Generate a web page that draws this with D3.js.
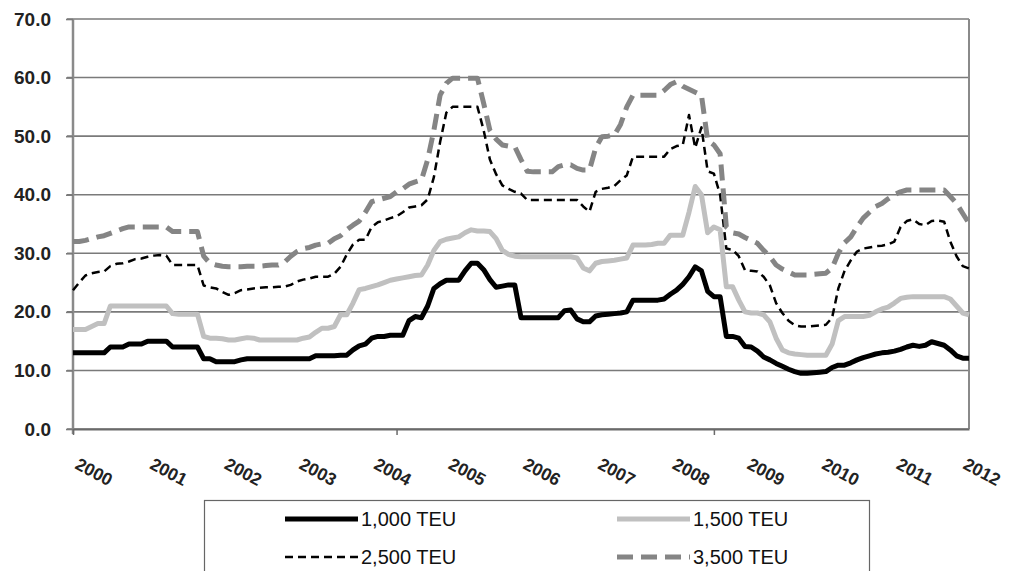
<!DOCTYPE html>
<html><head><meta charset="utf-8">
<script src="https://cdn.jsdelivr.net/npm/d3@7"></script>
<style>body{margin:0;background:#fff}svg{display:block}</style>
</head><body><svg id="c" width="1010" height="571"></svg>
<script>
// Monthly index 0 = Jan 2000 ... 144 = Jan 2012
const yearLabels = ["2000","2001","2002","2003","2004","2005","2006","2007","2008","2009","2010","2011","2012"];
const yTicks = [0,10,20,30,40,50,60,70];
const xTickMonths = [0,52,103];
const seriesNames = ["1,000 TEU","1,500 TEU","2,500 TEU","3,500 TEU"];

const teu1000 = [
 13,13,13,13,13,13,14,14,14,14.5,14.5,14.5,
 15,15,15,15,14,14,14,14,14,12,12,11.5,
 11.5,11.5,11.5,11.8,12,12,12,12,12,12,12,12,
 12,12,12,12.5,12.5,12.5,12.5,12.6,12.6,13.5,14.2,14.5,
 15.5,15.8,15.8,16,16,16,18.5,19.2,19,21,24,24.8,
 25.4,25.4,25.4,27,28.3,28.3,27.2,25.5,24.2,24.4,24.6,24.6,
 19,19,19,19,19,19,19,20.2,20.3,18.8,18.3,18.3,
 19.3,19.5,19.6,19.7,19.8,20,22,22,22,22,22,22.2,
 23,23.7,24.7,26,27.7,27,23.5,22.6,22.6,15.8,15.8,15.5,
 14.1,14,13.3,12.3,11.8,11.2,10.7,10.2,9.8,9.5,9.5,9.6,
 9.7,9.8,10.5,10.9,10.9,11.3,11.8,12.2,12.5,12.8,13,13.1,
 13.3,13.6,14,14.3,14.1,14.3,14.9,14.6,14.3,13.5,12.5,12.1,
 12.1];
const teu1500 = [
 17,17,17,17.5,18,18,21,21,21,21,21,21,
 21,21,21,21,19.7,19.6,19.6,19.6,19.6,15.8,15.5,15.5,
 15.4,15.2,15.2,15.4,15.6,15.5,15.2,15.2,15.2,15.2,15.2,15.2,
 15.2,15.5,15.7,16.5,17.2,17.2,17.5,19.5,19.5,21.5,23.8,24,
 24.3,24.6,25,25.4,25.6,25.8,26,26.2,26.3,28,30.5,32,
 32.4,32.6,32.8,33.5,34,33.8,33.8,33.7,32.5,30.5,29.8,29.5,
 29.4,29.4,29.4,29.4,29.4,29.4,29.4,29.4,29.4,29.2,27.5,27,
 28.3,28.6,28.7,28.8,29,29.2,31.4,31.4,31.4,31.5,31.7,31.7,
 33.1,33.1,33.1,37,41.4,40,33.5,34.5,34,24.3,24.3,22,
 20,19.8,19.8,19.5,18.3,15.5,13.5,13,12.8,12.7,12.6,12.6,
 12.6,12.6,14.5,18.5,19.2,19.2,19.2,19.2,19.4,20,20.5,20.8,
 21.5,22.3,22.5,22.6,22.6,22.6,22.6,22.6,22.6,22.2,21,19.8,
 19.5];
const teu2500 = [
 23.7,25,26.2,26.6,26.8,26.9,27.8,28.2,28.3,28.6,29,29.1,
 29.4,29.6,29.7,29.6,28,28,28,28,28,24.5,24.2,24,
 23.4,22.9,23.2,23.7,23.8,24,24.1,24.2,24.2,24.3,24.3,24.6,
 25.2,25.5,25.7,26,26,26,26.5,27.7,29.8,31.5,32.3,32.3,
 34.5,35.3,35.6,36,36.3,37,37.8,38,38.2,39.2,43,49,
 54,55,55,55,55,55,51,46,43.5,41.6,41,40.5,
 40.2,39.1,39.1,39.1,39.1,39.1,39.1,39.1,39.1,39.1,38,37.1,
 40.5,41,41.2,41.5,42.5,43.3,46.5,46.5,46.5,46.5,46.5,46.5,
 47.8,48.3,48.5,53.6,48,51.5,44,43.6,40,30.8,30.6,29.5,
 27.1,27,26.9,26,24.5,21.5,19.8,18.5,17.7,17.5,17.5,17.6,
 17.7,17.8,19,24,27,28.8,30.3,30.8,31,31.2,31.3,31.5,
 32,34.5,35.5,35.8,35,34.8,35.5,35.6,35.4,32,29.5,27.8,
 27.4];
const teu3500 = [
 32,32,32.2,32.5,32.8,33,33.4,33.8,34.2,34.5,34.5,34.5,
 34.5,34.5,34.5,34.5,33.7,33.7,33.7,33.7,33.7,29.5,28.3,28,
 27.8,27.7,27.7,27.7,27.8,27.8,27.8,27.9,28,28,28.5,29.5,
 30.3,30.8,31,31.4,31.6,31.7,32.5,33,34,34.8,35.5,37,
 38.8,39.1,39.4,39.7,40.5,41,41.8,42.2,42.5,46,51,57,
 59,59.9,59.9,59.9,59.9,59.9,55.6,51,49.5,48.5,48.3,48.2,
 46,44,43.9,43.9,43.9,43.9,44.8,45.1,45.1,44.5,44.2,44.2,
 48,49.9,50,50.2,52,55,57,57,57,57,57,57.8,
 58.8,59.3,58.5,58,57.5,57,49.3,48.5,47,34.5,33.5,33.3,
 32.7,32.2,31.7,30.5,29.4,28,27.3,26.8,26.3,26.3,26.3,26.4,
 26.5,26.6,27.5,30,31.8,32.8,34.5,36,37,38,38.5,39.3,
 40,40.5,40.8,40.8,40.8,40.8,40.8,40.8,40.8,39.7,38.5,36.8,
 35.1];

const styles = [
  {color:"#000000", width:5, dash:null},
  {color:"#c0c0c0", width:5, dash:null},
  {color:"#000000", width:2.5, dash:"8,5"},
  {color:"#858585", width:5, dash:"16,8"}
];
const allSeries = [teu1000, teu1500, teu2500, teu3500];

const svg = d3.select("#c");
const x = d3.scaleLinear().domain([0,144]).range([73,969]);
const y = d3.scaleLinear().domain([0,70]).range([429,19]);
const font = "'Liberation Sans', Arial, sans-serif";

// gridlines
svg.append("g").selectAll("line").data(yTicks).join("line")
  .attr("x1", 67).attr("x2", x(144))
  .attr("y1", d=>y(d)).attr("y2", d=>y(d))
  .attr("stroke", "#7a7a7a").attr("stroke-width", 1.6);

// right border
svg.append("line").attr("x1", x(144)).attr("x2", x(144)).attr("y1", y(70)).attr("y2", y(0))
  .attr("stroke", "#8a8a8a").attr("stroke-width", 2);

// y axis
const ya = svg.append("g").attr("transform", `translate(${x(0)},0)`)
  .call(d3.axisLeft(y).tickValues(yTicks).tickFormat(d3.format(".1f")).tickSizeInner(7).tickSizeOuter(0).tickPadding(15));
ya.select(".domain").attr("stroke", "#8a8a8a").attr("stroke-width", 2.5).attr("d", `M0,${y(70)}V${y(0)+5}`);
ya.selectAll(".tick line").attr("stroke", "#7a7a7a").attr("stroke-width", 1.6);
ya.selectAll(".tick text").attr("font-family", font).attr("font-size", 19).attr("font-weight", "bold").attr("fill", "#222");

// x axis
const xa = svg.append("g").attr("transform", `translate(0,${y(0)})`)
  .call(d3.axisBottom(x).tickValues(xTickMonths).tickFormat("").tickSizeInner(6).tickSizeOuter(0));
xa.select(".domain").attr("stroke", "#6a6a6a").attr("stroke-width", 1.8);
xa.selectAll(".tick line").attr("stroke", "#6a6a6a").attr("stroke-width", 1.5);

// year labels
svg.append("g").selectAll("text").data(yearLabels).join("text")
  .attr("transform", (d,i)=>`translate(${Math.min(x(i*12)+1, 962)},468) rotate(28)`)
  .attr("font-family", font).attr("font-size", 17.5).attr("font-weight", "bold").attr("fill", "#222")
  .text(d=>d);

// lines
const line = d3.line().x((d,i)=>x(i)).y(d=>y(d));
allSeries.forEach((s,k)=>{
  const st = styles[k];
  svg.append("path").datum(s).attr("d", line)
    .attr("fill","none").attr("stroke", st.color).attr("stroke-width", st.width)
    .attr("stroke-linejoin","round")
    .attr("stroke-dasharray", st.dash);
});

// legend
const lg = svg.append("g");
lg.append("rect").attr("x", 204.5).attr("y", 500.5).attr("width", 665).attr("height", 90)
  .attr("fill", "#fff").attr("stroke", "#666").attr("stroke-width", 1.2);
const legendPos = [[285,519],[617,519],[285,557],[617,557]];
seriesNames.forEach((n,k)=>{
  const [lx,ly] = legendPos[k]; const st = styles[k];
  lg.append("line").attr("x1", lx).attr("x2", lx+73).attr("y1", ly).attr("y2", ly)
    .attr("stroke", st.color).attr("stroke-width", st.width).attr("stroke-dasharray", st.dash);
  lg.append("text").attr("x", lx+76).attr("y", ly+7).attr("font-family", font).attr("font-size", 20)
    .attr("fill", "#111").text(n);
});
</script></body></html>
